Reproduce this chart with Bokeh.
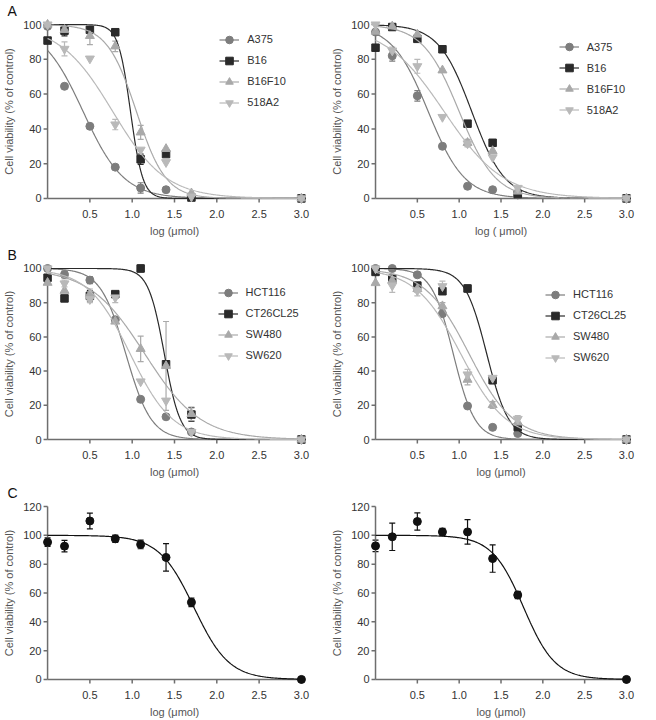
import numpy as np
from bokeh.plotting import figure
from bokeh.models import (Range1d, FixedTicker, NumeralTickFormatter, Whisker, TeeHead,
                          ColumnDataSource, Legend, LegendItem)
from bokeh.layouts import gridplot
from bokeh.embed import file_html
from bokeh.resources import INLINE

# ---------------- data ----------------
log_conc = [0.0, 0.2, 0.5, 0.8, 1.1, 1.4, 1.7, 3.0]

# Panel A (melanoma lines), left and right
a375_L = [99, 64.5, 41.5, 18, 6, 5, 1, 0]
a375_L_err = [0, 0, 0, 0, 3, 0, 0, 0]
b16_L = [90.8, 96.5, 97, 95.6, 22.5, 25.5, 0.5, 0]
b16_L_err = [0, 3, 0, 0, 3, 0, 0, 0]
b16f10_L = [100, 97, 93.5, 87.5, 38, 28.5, 3, 0]
b16f10_L_err = [0, 0, 5, 3, 4, 0, 0, 0]
m518_L = [100, 86, 80.4, 42.5, 28, 20.8, 1, 0]
m518_L_err = [0, 4, 0, 3, 0, 0, 0, 0]

a375_R = [95.7, 82, 59, 30, 7, 5, 2, 0]
a375_R_err = [0, 3, 3, 0, 0, 0, 0, 0]
b16_R = [86.7, 98.6, 91.8, 85.8, 43, 32, 2.5, 0]
b16_R_err = [0, 0, 0, 0, 0, 0, 0, 0]
b16f10_R = [96, 99, 94.3, 73.7, 32, 27.3, 4, 0]
b16f10_R_err = [0, 0, 0, 0, 2, 0, 0, 0]
m518_R = [100, 85, 76, 46.8, 31.6, 23.6, 6, 0]
m518_R_err = [0, 2, 4, 0, 2, 0, 0, 0]

# Panel B (colon lines), left and right
hct_L = [100, 96.5, 93.2, 70, 23.5, 13.3, 4.4, 0]
hct_L_err = [0, 2, 2, 0, 0, 0, 0, 0]
ct26_L = [94.6, 82.5, 84, 85, 100, 44, 14.6, 0]
ct26_L_err = [0, 0, 3, 0, 2, 0, 4, 0]
sw480_L = [91.7, 87, 85, 69, 53, 43, 15, 0]
sw480_L_err = [0, 0, 3, 0, 7.5, 26, 4, 0]
sw620_L = [100, 91.2, 82, 83, 33.9, 22.7, 4.4, 0]
sw620_L_err = [0, 2, 2, 3, 0, 0, 0, 0]

hct_R = [100, 100, 96.3, 73.6, 19.6, 7.1, 3.5, 0]
hct_R_err = [0, 0, 0, 0, 0, 0, 0, 0]
ct26_R = [98, 94, 90, 86.7, 88.3, 34.7, 7.3, 0]
ct26_R_err = [0, 0, 0, 0, 2, 2, 0, 0]
sw480_R = [91.5, 93, 88, 78, 35, 20.2, 10, 0]
sw480_R_err = [0, 0, 2, 2, 3, 2, 0, 0]
sw620_R = [100, 90, 87, 89.6, 38, 36, 12, 0]
sw620_R_err = [0, 4, 3, 3, 3, 0, 2, 0]

# Panel C (single line), left and right
c_L = [95.3, 92.5, 110, 97.6, 93.7, 84.7, 53.5, 0]
c_L_err = [3, 4, 5.5, 2.5, 3, 9.5, 3, 0]
c_R = [92.7, 99, 109.6, 102.4, 102.4, 83.9, 58.6, 0]
c_R_err = [4, 9.5, 6, 2.5, 8.5, 9.5, 2.5, 0]

# fitted dose-response parameters: (top, bottom, logIC50, hill slope)
fit_a375_L = (100, 0, 0.42, 1.8)
fit_b16_L = (100, 0, 0.98, 6.0)
fit_b16f10_L = (100, 0, 1.05, 2.5)
fit_m518_L = (100, 0, 0.77, 1.38)
fit_a375_R = (100, 0, 0.63, 2.0)
fit_b16_R = (100, 0, 1.15, 2.2)
fit_b16f10_R = (100, 0, 1.0, 2.0)
fit_m518_R = (100, 0, 0.82, 1.22)
fit_hct_L = (100, 0, 0.925, 2.9)
fit_ct26_L = (100, 0, 1.38, 4.6)
fit_sw480_L = (100, 0, 1.15, 1.32)
fit_sw620_L = (100, 0, 0.977, 1.73)
fit_hct_R = (100, 0, 0.93, 3.36)
fit_ct26_R = (100, 0, 1.33, 3.3)
fit_sw480_R = (100, 0, 1.12, 1.63)
fit_sw620_R = (100, 0, 1.02, 1.6)
fit_c_L = (100, 0, 1.73, 2.1)
fit_c_R = (100, 0, 1.77, 2.3)

x_ticks = [0.5, 1.0, 1.5, 2.0, 2.5, 3.0]
y_ticks_100 = [0, 20, 40, 60, 80, 100]
y_ticks_120 = [0, 20, 40, 60, 80, 100, 120]

# ---------------- styles ----------------
FONT = "Liberation Sans"
C_CIRCLE = "#7d7d7d"
C_SQUARE = "#2a2a2a"
C_TRI = "#a9a9a9"
C_ITRI = "#b9b9b9"
C_BLACK = "#111111"
AXIS_C = "#6e6e6e"

XMIN, XMAX = -0.06, 3.06
YPAD = 0.035


def hill(x, p):
    top, bottom, c, h = p
    return bottom + (top - bottom) / (1.0 + 10 ** ((x - c) * h))


def make_panel(letter, series, yticks, width, height, mb, xlabel, legend_at=None):
    mbl, mbr, mbt, mbb = mb
    ymax = yticks[-1]
    ymin, ytop = -YPAD * ymax, ymax * (1 + YPAD)
    p = figure(width=width, height=height, output_backend="svg", toolbar_location=None,
               x_range=Range1d(XMIN, XMAX), y_range=Range1d(ymin, ytop),
               min_border_left=mbl, min_border_right=mbr,
               min_border_top=mbt, min_border_bottom=mbb,
               title=letter if letter else " ")
    p.title.text_font = FONT
    p.title.text_font_size = "14px"
    p.title.text_font_style = "normal"
    p.title.text_color = "#111111"
    p.title.align = "left"
    p.title.offset = -(mbl - 3)
    p.title.standoff = 0
    p.outline_line_color = None
    p.xgrid.visible = False
    p.ygrid.visible = False
    p.background_fill_color = "white"
    p.border_fill_color = "white"

    # label-only axes at the frame edges
    for ax in (p.xaxis[0], p.yaxis[0]):
        ax.axis_line_color = None
        ax.major_tick_line_color = None
        ax.minor_tick_line_color = None
        ax.major_tick_out = 0
        ax.major_tick_in = 0
        ax.major_label_text_font = FONT
        ax.major_label_text_font_size = "11px"
        ax.major_label_text_color = "#333333"
        ax.axis_label_text_font = FONT
        ax.axis_label_text_font_size = "11px"
        ax.axis_label_text_font_style = "normal"
        ax.axis_label_text_color = "#555555"
    xa, ya = p.xaxis[0], p.yaxis[0]
    xa.ticker = FixedTicker(ticks=x_ticks)
    xa.formatter = NumeralTickFormatter(format="0.0")
    ya.ticker = FixedTicker(ticks=yticks)
    xa.axis_label = xlabel
    ya.axis_label = "Cell viability (% of control)"
    xa.major_label_standoff = 5
    xa.axis_label_standoff = 4
    ya.major_label_standoff = 1
    ya.axis_label_standoff = 5

    # axis lines and outward ticks drawn at x=0 / y=0
    p.segment(x0=[0, 0], y0=[0, 0], x1=[x_ticks[-1], 0], y1=[0, ymax],
              line_color=AXIS_C, line_width=1.5)
    p.ray(x=[0] * len(yticks), y=yticks, length=4, length_units="screen",
          angle=np.pi, line_color=AXIS_C, line_width=1.5)
    p.ray(x=x_ticks, y=[0] * len(x_ticks), length=4, length_units="screen",
          angle=-np.pi / 2, line_color=AXIS_C, line_width=1.5)

    xs = np.linspace(0, 3, 301)
    items = []
    for s in series:
        ln = p.line(xs, hill(xs, s["fit"]), line_color=s["color"], line_width=1.2)
        errs = [(x, y, e) for x, y, e in zip(log_conc, s["y"], s["err"]) if e > 0]
        if errs:
            src = ColumnDataSource(dict(x=[e[0] for e in errs],
                                        lo=[e[1] - e[2] for e in errs],
                                        hi=[e[1] + e[2] for e in errs]))
            wk = Whisker(base="x", lower="lo", upper="hi", source=src,
                         line_color=s["color"], line_width=1.2,
                         upper_head=TeeHead(size=6, line_color=s["color"], line_width=1.2),
                         lower_head=TeeHead(size=6, line_color=s["color"], line_width=1.2))
            p.add_layout(wk)
        sc = p.scatter(log_conc, s["y"], marker=s["marker"], size=s["size"],
                       fill_color=s["color"], line_color=s["color"])
        if s.get("name"):
            items.append(LegendItem(label=s["name"], renderers=[ln, sc]))

    if items and legend_at is not None:
        x0, v1 = legend_at
        fw = width - mbl - mbr
        fh = height - mbt - mbb
        pxx = fw / (XMAX - XMIN)
        pxy = fh / (ytop - ymin)
        pad, gh, sp = 4, 19, 2
        n = len(items)
        top = (v1 - ymin) * pxy + gh / 2 + pad
        lh = n * gh + (n - 1) * sp + 2 * pad
        vx = (x0 - XMIN) * pxx - pad
        leg = Legend(items=items, location=(vx, top - lh))
        leg.label_text_font = FONT
        leg.label_text_font_size = "11px"
        leg.label_text_color = "#333333"
        leg.glyph_width = 20
        leg.glyph_height = gh
        leg.label_height = gh
        leg.spacing = sp
        leg.padding = pad
        leg.label_standoff = 8
        leg.border_line_color = None
        leg.background_fill_alpha = 0
        p.add_layout(leg)
    return p


def ser(name, y, err, marker, color, fit, size=8):
    return dict(name=name, y=y, err=err, marker=marker, color=color, fit=fit, size=size)


WL, WR = 328, 328
MB_A_L, MB_A_R = (38, 22, 18, 36), (37, 25, 18, 36)
MB_B_L, MB_B_R = (38, 22, 22, 32), (37, 25, 22, 32)
MB_C_L, MB_C_R = (38, 22, 20, 35), (37, 25, 20, 35)

A_left = make_panel("A", [
    ser("A375", a375_L, a375_L_err, "circle", C_CIRCLE, fit_a375_L),
    ser("B16", b16_L, b16_L_err, "square", C_SQUARE, fit_b16_L, 7.5),
    ser("B16F10", b16f10_L, b16f10_L_err, "triangle", C_TRI, fit_b16f10_L, 9),
    ser("518A2", m518_L, m518_L_err, "inverted_triangle", C_ITRI, fit_m518_L, 9),
], y_ticks_100, WL, 240, MB_A_L, "log (μmol)", legend_at=(2.05, 93.7))

A_right = make_panel(None, [
    ser("A375", a375_R, a375_R_err, "circle", C_CIRCLE, fit_a375_R),
    ser("B16", b16_R, b16_R_err, "square", C_SQUARE, fit_b16_R, 7.5),
    ser("B16F10", b16f10_R, b16f10_R_err, "triangle", C_TRI, fit_b16f10_R, 9),
    ser("518A2", m518_R, m518_R_err, "inverted_triangle", C_ITRI, fit_m518_R, 9),
], y_ticks_100, WR, 240, MB_A_R, "log ( μmol)", legend_at=(2.2, 89.4))

B_left = make_panel("B", [
    ser("HCT116", hct_L, hct_L_err, "circle", C_CIRCLE, fit_hct_L),
    ser("CT26CL25", ct26_L, ct26_L_err, "square", C_SQUARE, fit_ct26_L, 7.5),
    ser("SW480", sw480_L, sw480_L_err, "triangle", C_TRI, fit_sw480_L, 9),
    ser("SW620", sw620_L, sw620_L_err, "inverted_triangle", C_ITRI, fit_sw620_L, 9),
], y_ticks_100, WL, 240, MB_B_L, "log (μmol)", legend_at=(2.03, 86.7))

B_right = make_panel(None, [
    ser("HCT116", hct_R, hct_R_err, "circle", C_CIRCLE, fit_hct_R),
    ser("CT26CL25", ct26_R, ct26_R_err, "square", C_SQUARE, fit_ct26_R, 7.5),
    ser("SW480", sw480_R, sw480_R_err, "triangle", C_TRI, fit_sw480_R, 9),
    ser("SW620", sw620_R, sw620_R_err, "inverted_triangle", C_ITRI, fit_sw620_R, 9),
], y_ticks_100, WR, 240, MB_B_R, "log (μmol)", legend_at=(2.04, 85.5))

C_left = make_panel("C", [
    ser(None, c_L, c_L_err, "circle", C_BLACK, fit_c_L),
], y_ticks_120, WL, 240, MB_C_L, "log (μmol)")

C_right = make_panel(None, [
    ser(None, c_R, c_R_err, "circle", C_BLACK, fit_c_R),
], y_ticks_120, WR, 240, MB_C_R, "log (μmol)")

layout = gridplot([[A_left, A_right], [B_left, B_right], [C_left, C_right]],
                  toolbar_location=None)

open("out.html", "w").write(file_html(layout, INLINE))
